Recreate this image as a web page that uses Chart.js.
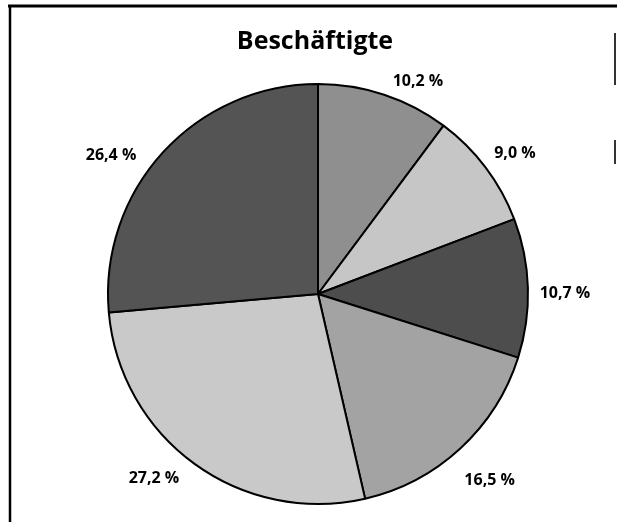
<!DOCTYPE html>
<html>
<head>
<meta charset="utf-8">
<script src="https://cdn.jsdelivr.net/npm/chart.js@4"></script>
<style>
html,body{margin:0;padding:0;background:#fff;}
#wrap{width:617px;height:532px;position:relative;}
</style>
</head>
<body>
<div id="wrap"><canvas id="c" width="617" height="532"></canvas></div>
<script>
const titleText = 'Beschäftigte';
const categories = ['A', 'B', 'C', 'D', 'E', 'F'];
const values = [10.2, 9.0, 10.7, 16.5, 27.2, 26.4];
const valueLabels = ['10,2 %', '9,0 %', '10,7 %', '16,5 %', '27,2 %', '26,4 %'];

const sliceColors = ['#8f8f8f', '#c6c6c6', '#4d4d4d', '#a3a3a3', '#c9c9c9', '#545454'];
const labelRadiusFactor = [1.12, 1.153, 1.176, 1.206, 1.174, 1.187];
const labelAngleShiftDeg = [6.8, 1.5, 1.4, 0, 5.7, -8.6];

const decorPlugin = {
  id: 'decor',
  afterDraw(chart) {
    const ctx = chart.ctx;
    ctx.save();
    // frame
    ctx.strokeStyle = '#000';
    ctx.lineWidth = 3;
    ctx.beginPath();
    ctx.moveTo(8, 6); ctx.lineTo(617, 6);
    ctx.stroke();
    ctx.lineWidth = 2.5;
    ctx.beginPath();
    ctx.moveTo(10, 5); ctx.lineTo(10, 522);
    ctx.stroke();
    ctx.lineWidth = 2;
    ctx.strokeStyle = '#333';
    ctx.beginPath();
    ctx.moveTo(615, 33); ctx.lineTo(615, 85);
    ctx.moveTo(615, 140); ctx.lineTo(615, 164);
    ctx.stroke();
    // title
    ctx.fillStyle = '#000';
    ctx.font = 'bold 25px "Open Sans", sans-serif';
    ctx.textAlign = 'center';
    ctx.textBaseline = 'alphabetic';
    ctx.fillText(titleText, 315, 49);
    // value labels
    const meta = chart.getDatasetMeta(0);
    ctx.font = 'bold 16px "Open Sans", sans-serif';
    ctx.textBaseline = 'middle';
    meta.data.forEach((arc, i) => {
      const p = arc.getProps(['x', 'y', 'startAngle', 'endAngle', 'outerRadius'], true);
      const mid = (p.startAngle + p.endAngle) / 2 + labelAngleShiftDeg[i] * Math.PI / 180;
      const r = p.outerRadius * labelRadiusFactor[i];
      ctx.fillText(valueLabels[i], p.x + Math.cos(mid) * r, p.y + Math.sin(mid) * r);
    });
    ctx.restore();
  }
};

new Chart(document.getElementById('c'), {
  type: 'pie',
  data: {
    labels: categories,
    datasets: [{
      data: values,
      backgroundColor: sliceColors,
      borderColor: '#000',
      borderWidth: 2
    }]
  },
  options: {
    responsive: false,
    animation: false,
    layout: { padding: { left: 107, right: 88, top: 83, bottom: 27 } },
    plugins: {
      legend: { display: false },
      tooltip: { enabled: false },
      title: { display: false }
    }
  },
  plugins: [decorPlugin]
});
</script>
</body>
</html>
